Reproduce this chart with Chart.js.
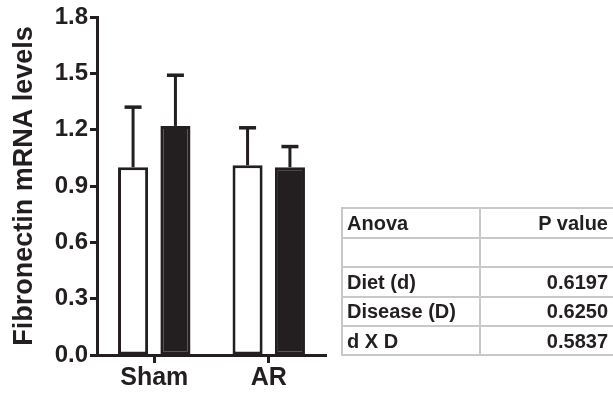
<!DOCTYPE html>
<html>
<head>
<meta charset="utf-8">
<script src="https://cdn.jsdelivr.net/npm/chart.js@4.4.1/dist/chart.umd.min.js"></script>
<style>
  html, body { margin: 0; padding: 0; background: #fff; overflow: hidden; }
  #wrap { position: relative; width: 613px; height: 393px; overflow: hidden; }
  canvas { position: absolute; left: 0; top: 0; }
  #anova {
    position: absolute; left: 341px; top: 207px; width: 282px;
    border-collapse: collapse; table-layout: fixed;
    font-family: "Liberation Sans", Arial, Helvetica, sans-serif;
    font-weight: bold; font-size: 20px; color: #231f20;
  }
  #anova td { border: 2px solid #c8c8c8; height: 27.3px; padding: 0 4px; line-height: 22px; white-space: nowrap; }
  #anova td.v { text-align: right; padding-right: 15px; }
  #anova tr.hdr td { height: 28px; }
</style>
</head>
<body>
<div id="wrap">
  <canvas id="c" width="613" height="393"></canvas>
  <table id="anova"><colgroup><col style="width:138px"><col style="width:144px"></colgroup><tbody id="tb"></tbody></table>
</div>
<script>
// ---- data ----
const categories = ['Sham', 'AR'];
const controlMeans = [1.00, 1.01];
const controlErr = [0.32, 0.20];
const treatedMeans = [1.22, 1.00];
const treatedErr = [0.27, 0.11];
const yTicks = [0.0, 0.3, 0.6, 0.9, 1.2, 1.5, 1.8];
const anovaHeader = ['Anova', 'P value'];
const anovaTerms = ['', 'Diet (d)', 'Disease (D)', 'd X D'];
const pValues = ['', '0.6197', '0.6250', '0.5837'];
const yTitle = 'Fibronectin mRNA levels';

// ---- table ----
const tb = document.getElementById('tb');
(function () {
  const h = document.createElement('tr'); h.className = 'hdr';
  h.innerHTML = '<td>' + anovaHeader[0] + '</td><td class="v">' + anovaHeader[1] + '</td>';
  tb.appendChild(h);
  anovaTerms.forEach((t, i) => {
    const r = document.createElement('tr');
    const a = document.createElement('td'); a.textContent = t;
    const b = document.createElement('td'); b.className = 'v'; b.textContent = pValues[i];
    r.appendChild(a); r.appendChild(b); tb.appendChild(r);
  });
})();

// ---- chart ----
const INK = '#231f20';
const FONT = '"Liberation Sans", Arial, Helvetica, sans-serif';

const errorBars = {
  id: 'errorBars',
  afterDatasetsDraw(chart) {
    const ctx = chart.ctx, y = chart.scales.y;
    chart.data.datasets.forEach((ds, di) => {
      const meta = chart.getDatasetMeta(di);
      meta.data.forEach((bar, i) => {
        const top = y.getPixelForValue(ds.data[i] + ds.errors[i]);
        ctx.save();
        ctx.strokeStyle = INK; ctx.lineWidth = 3; ctx.lineCap = 'butt';
        ctx.beginPath();
        ctx.moveTo(bar.x, bar.y); ctx.lineTo(bar.x, top);
        ctx.stroke();
        ctx.lineWidth = 3.5;
        ctx.beginPath();
        ctx.moveTo(bar.x - 8.5, top); ctx.lineTo(bar.x + 8.5, top);
        ctx.stroke();
        ctx.restore();
      });
    });
  }
};

new Chart(document.getElementById('c'), {
  type: 'bar',
  data: {
    labels: categories,
    datasets: [
      { label: 'Control', data: controlMeans, errors: controlErr, backgroundColor: '#ffffff', borderColor: INK, borderWidth: 3, borderSkipped: false },
      { label: 'Treated', data: treatedMeans, errors: treatedErr, backgroundColor: INK, borderColor: INK, borderWidth: 3, borderSkipped: false }
    ]
  },
  options: {
    responsive: false,
    animation: false,
    devicePixelRatio: 1,
    datasets: { bar: { categoryPercentage: 0.74, barPercentage: 0.71 } },
    layout: { padding: { left: 0, top: 17, right: 287, bottom: 0 } },
    plugins: { legend: { display: false }, tooltip: { enabled: false } },
    scales: {
      x: {
        afterFit(s) { s.height = 38; },
        grid: { display: true, drawOnChartArea: false, offset: false, tickLength: 8, tickWidth: 3, tickColor: INK },
        border: { display: true, color: INK, width: 3 },
        ticks: { color: INK, padding: 0, font: { family: FONT, size: 25, weight: 'bold' } }
      },
      y: {
        min: 0, max: 1.8,
        afterFit(s) { s.width = 97; },
        afterBuildTicks(s) { s.ticks = yTicks.map(v => ({ value: v })); },
        grid: { display: true, drawOnChartArea: false, tickLength: 7, tickWidth: 3, tickColor: INK },
        border: { display: true, color: INK, width: 3 },
        ticks: { color: INK, padding: 2, font: { family: FONT, size: 24, weight: 'bold' }, callback: v => Number(v).toFixed(1) },
        title: { display: true, text: yTitle, color: INK, padding: { top: 8, bottom: 0 }, font: { family: FONT, size: 27, weight: 'bold' } }
      }
    }
  },
  plugins: [errorBars]
});
</script>
</body>
</html>
